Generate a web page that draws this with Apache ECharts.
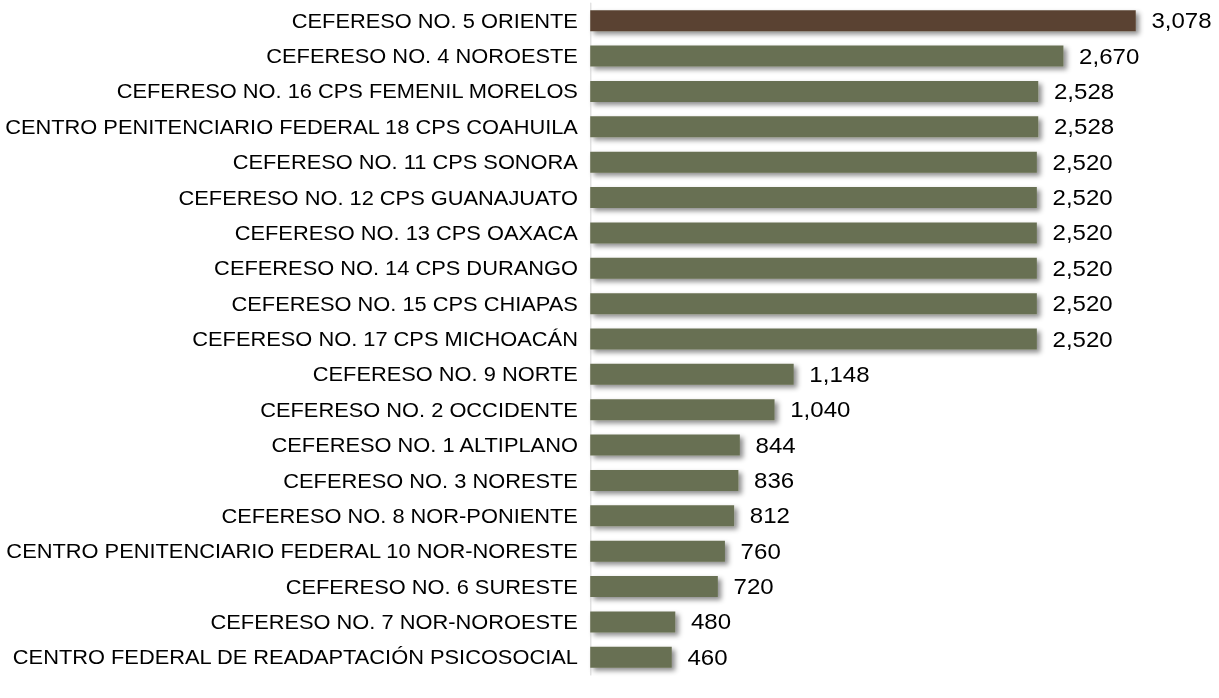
<!DOCTYPE html>
<html lang="es">
<head>
    <meta charset="UTF-8">
    <title>Capacidad por centro federal</title>
    <script src="https://cdn.jsdelivr.net/npm/echarts@6/dist/echarts.min.js"></script>
    <style>
        html, body { margin: 0; padding: 0; background: #fff; overflow: hidden; }
        /* el original viene estirado a lo ancho, lo imitamos */
        #main { transform: scaleX(1.12); transform-origin: 0 0; }
    </style>
</head>
<body>
    <div id="main" style="width: 1088px;height: 698px;"></div>

    <script type="text/javascript">
        // datos, de arriba hacia abajo
        var centros = [
            'CEFERESO NO. 5 ORIENTE',
            'CEFERESO NO. 4 NOROESTE',
            'CEFERESO NO. 16 CPS FEMENIL MORELOS',
            'CENTRO PENITENCIARIO FEDERAL 18 CPS COAHUILA',
            'CEFERESO NO. 11 CPS SONORA',
            'CEFERESO NO. 12 CPS GUANAJUATO',
            'CEFERESO NO. 13 CPS OAXACA',
            'CEFERESO NO. 14 CPS DURANGO',
            'CEFERESO NO. 15 CPS CHIAPAS',
            'CEFERESO NO. 17 CPS MICHOACÁN',
            'CEFERESO NO. 9 NORTE',
            'CEFERESO NO. 2 OCCIDENTE',
            'CEFERESO NO. 1 ALTIPLANO',
            'CEFERESO NO. 3 NORESTE',
            'CEFERESO NO. 8 NOR-PONIENTE',
            'CENTRO PENITENCIARIO FEDERAL 10 NOR-NORESTE',
            'CEFERESO NO. 6 SURESTE',
            'CEFERESO NO. 7 NOR-NOROESTE',
            'CENTRO FEDERAL DE READAPTACIÓN PSICOSOCIAL'
        ];
        var capacidad = [3078, 2670, 2528, 2528, 2520, 2520, 2520, 2520, 2520, 2520,
                         1148, 1040, 844, 836, 812, 760, 720, 480, 460];

        var myChart = echarts.init(document.getElementById('main'), null, { renderer: 'svg' });

        var datos = [];
        for (var i = 0; i < capacidad.length; i++) {
            datos.push({
                value: capacidad[i],
                itemStyle: { color: i === 0 ? '#5a4330' : '#687052' }
            });
        }

        var option = {
            animation: false,
            grid: { left: 527, right: 23, top: 3, height: 672 },
            xAxis: {
                type: 'value',
                min: 0,
                max: 3400,
                show: false
            },
            yAxis: {
                type: 'category',
                inverse: true,
                data: centros,
                axisLine: { show: true, lineStyle: { color: '#d9d9d9', width: 1 } },
                axisTick: { show: false },
                axisLabel: {
                    margin: 11,
                    fontFamily: 'Liberation Sans, Arial, sans-serif',
                    fontSize: 19.5,
                    color: '#000'
                }
            },
            series: [{
                type: 'bar',
                barWidth: 21,
                data: datos,
                itemStyle: {
                    shadowColor: 'rgba(0,0,0,0.45)',
                    shadowBlur: 5,
                    shadowOffsetX: 3,
                    shadowOffsetY: 3
                },
                label: {
                    show: true,
                    position: 'right',
                    distance: 14,
                    fontFamily: 'Liberation Sans, Arial, sans-serif',
                    fontSize: 21.5,
                    color: '#000',
                    formatter: function (p) {
                        return p.value.toLocaleString('en-US');
                    }
                }
            }]
        };
        myChart.setOption(option);
    </script>
</body>
</html>
